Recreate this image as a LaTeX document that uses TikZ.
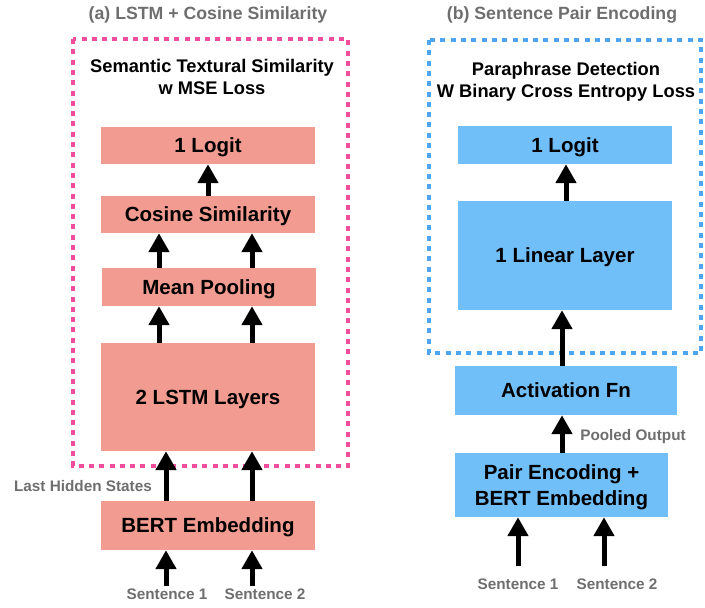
\documentclass[tikz,border=0pt]{standalone}
\usepackage{fontspec}
\setmainfont{Liberation Sans}
\usepackage{xcolor}
\usepackage{tikz}
\usetikzlibrary{arrows.meta}
\definecolor{salmon}{HTML}{F29C91}
\definecolor{skyblue}{HTML}{71BFF9}
\definecolor{dotpink}{HTML}{EE4E9C}
\definecolor{dotblue}{HTML}{4EA5F2}
\definecolor{labelgray}{HTML}{6E6E6E}
\tikzset{
  layer/.style={inner sep=0, minimum width=214pt, align=center, text depth=0pt,
    font=\fontsize{20.5}{26.5}\selectfont\bfseries},
  layerA/.style={layer, fill=salmon},
  layerB/.style={layer, fill=skyblue},
  upArrow/.style={line width=5pt, -{Triangle[width=20pt,length=19pt]}},
  lossBox/.style={line width=4.5pt, dash pattern=on 5pt off 5.3pt},
  lossText/.style={align=center, inner sep=0, font=\fontsize{18.3}{22}\selectfont\bfseries},
  panelTitle/.style={text=labelgray, inner sep=0, font=\fontsize{17.7}{21}\selectfont\bfseries},
  greyNote/.style={text=labelgray, inner sep=0, font=\fontsize{15.3}{18}\selectfont\bfseries}
}

\begin{document}
\begin{tikzpicture}[x=1pt,y=-1pt]
\useasboundingbox (0,0) rectangle (705,608);

% (a) LSTM + cosine similarity
\node[panelTitle] (titleA) at (208,15) {(a) LSTM + Cosine Similarity};
\draw[lossBox, dotpink] (73,39) rectangle (348,466);
\node[lossText] (lossA) at (212,77) {Semantic Textural Similarity\\w MSE Loss};

\node[layerA, minimum height=37pt] (logitA) at (208,145.5) {1 Logit};
\node[layerA, minimum height=37pt] (cosA) at (208,214.5) {Cosine Similarity};
\node[layerA, minimum height=38pt] (meanA) at (209,287) {Mean Pooling};
\node[layerA, minimum height=108pt] (lstmA) at (208,397) {2 LSTM Layers};
\node[layerA, minimum height=49pt] (bertA) at (208,525.5) {BERT Embedding};

\node[greyNote] (sentA1) at (167,594) {Sentence 1};
\node[greyNote] (sentA2) at (265,594) {Sentence 2};
\node[greyNote] (hidden) at (83,486) {Last Hidden States};

\coordinate (colA1) at (166,0);
\coordinate (colA2) at (252,0);
\coordinate (colA3) at (159,0);

\draw[upArrow] (cosA.north) -- (logitA.south);
\foreach \c in {colA3,colA2} {
  \draw[upArrow] (meanA.north -| \c) -- (cosA.south -| \c);
  \draw[upArrow] (lstmA.north -| \c) -- (meanA.south -| \c);
}
\foreach \c in {colA1,colA2} {
  \draw[upArrow] (bertA.north -| \c) -- (lstmA.south -| \c);
}
\draw[upArrow, shorten <=2pt] (sentA1.north -| colA1) -- (bertA.south -| colA1);
\draw[upArrow, shorten <=2pt] (sentA2.north -| colA2) -- (bertA.south -| colA2);

% (b) sentence pair encoding
\node[panelTitle] (titleB) at (562,15) {(b) Sentence Pair Encoding};
\draw[lossBox, dotblue] (429,40) rectangle (701,353);
\node[lossText] (lossB) at (566,81.5) {Paraphrase Detection\\W Binary Cross Entropy Loss};

\node[layerB, minimum height=38pt] (logitB) at (565,145) {1 Logit};
\node[layerB, minimum height=109pt] (linB) at (565,255.5) {1 Linear Layer};
\node[layerB, minimum width=222pt, minimum height=49pt] (actB) at (566,390.5) {Activation Fn};
\node[layerB, minimum width=213pt, minimum height=64pt] (pairB) at (561.5,485) {Pair Encoding +\\BERT Embedding};

\node[greyNote] (sentB1) at (518,584) {Sentence 1};
\node[greyNote] (sentB2) at (617,584) {Sentence 2};
\node[greyNote] (pooled) at (633,437) {Pooled Output};

\coordinate (colB1) at (518,0);
\coordinate (colB2) at (604,0);
\coordinate (colB3) at (562,0);
\coordinate (colB4) at (566,0);

\draw[upArrow] (linB.north -| colB4) -- (logitB.south -| colB4);
\draw[upArrow] (actB.north -| colB3) -- (linB.south -| colB3);
\draw[upArrow] (pairB.north -| colB3) -- (actB.south -| colB3);
\draw[upArrow, shorten <=12pt] (sentB1.north -| colB1) -- (pairB.south -| colB1);
\draw[upArrow, shorten <=12pt] (sentB2.north -| colB2) -- (pairB.south -| colB2);
\end{tikzpicture}
\end{document}
